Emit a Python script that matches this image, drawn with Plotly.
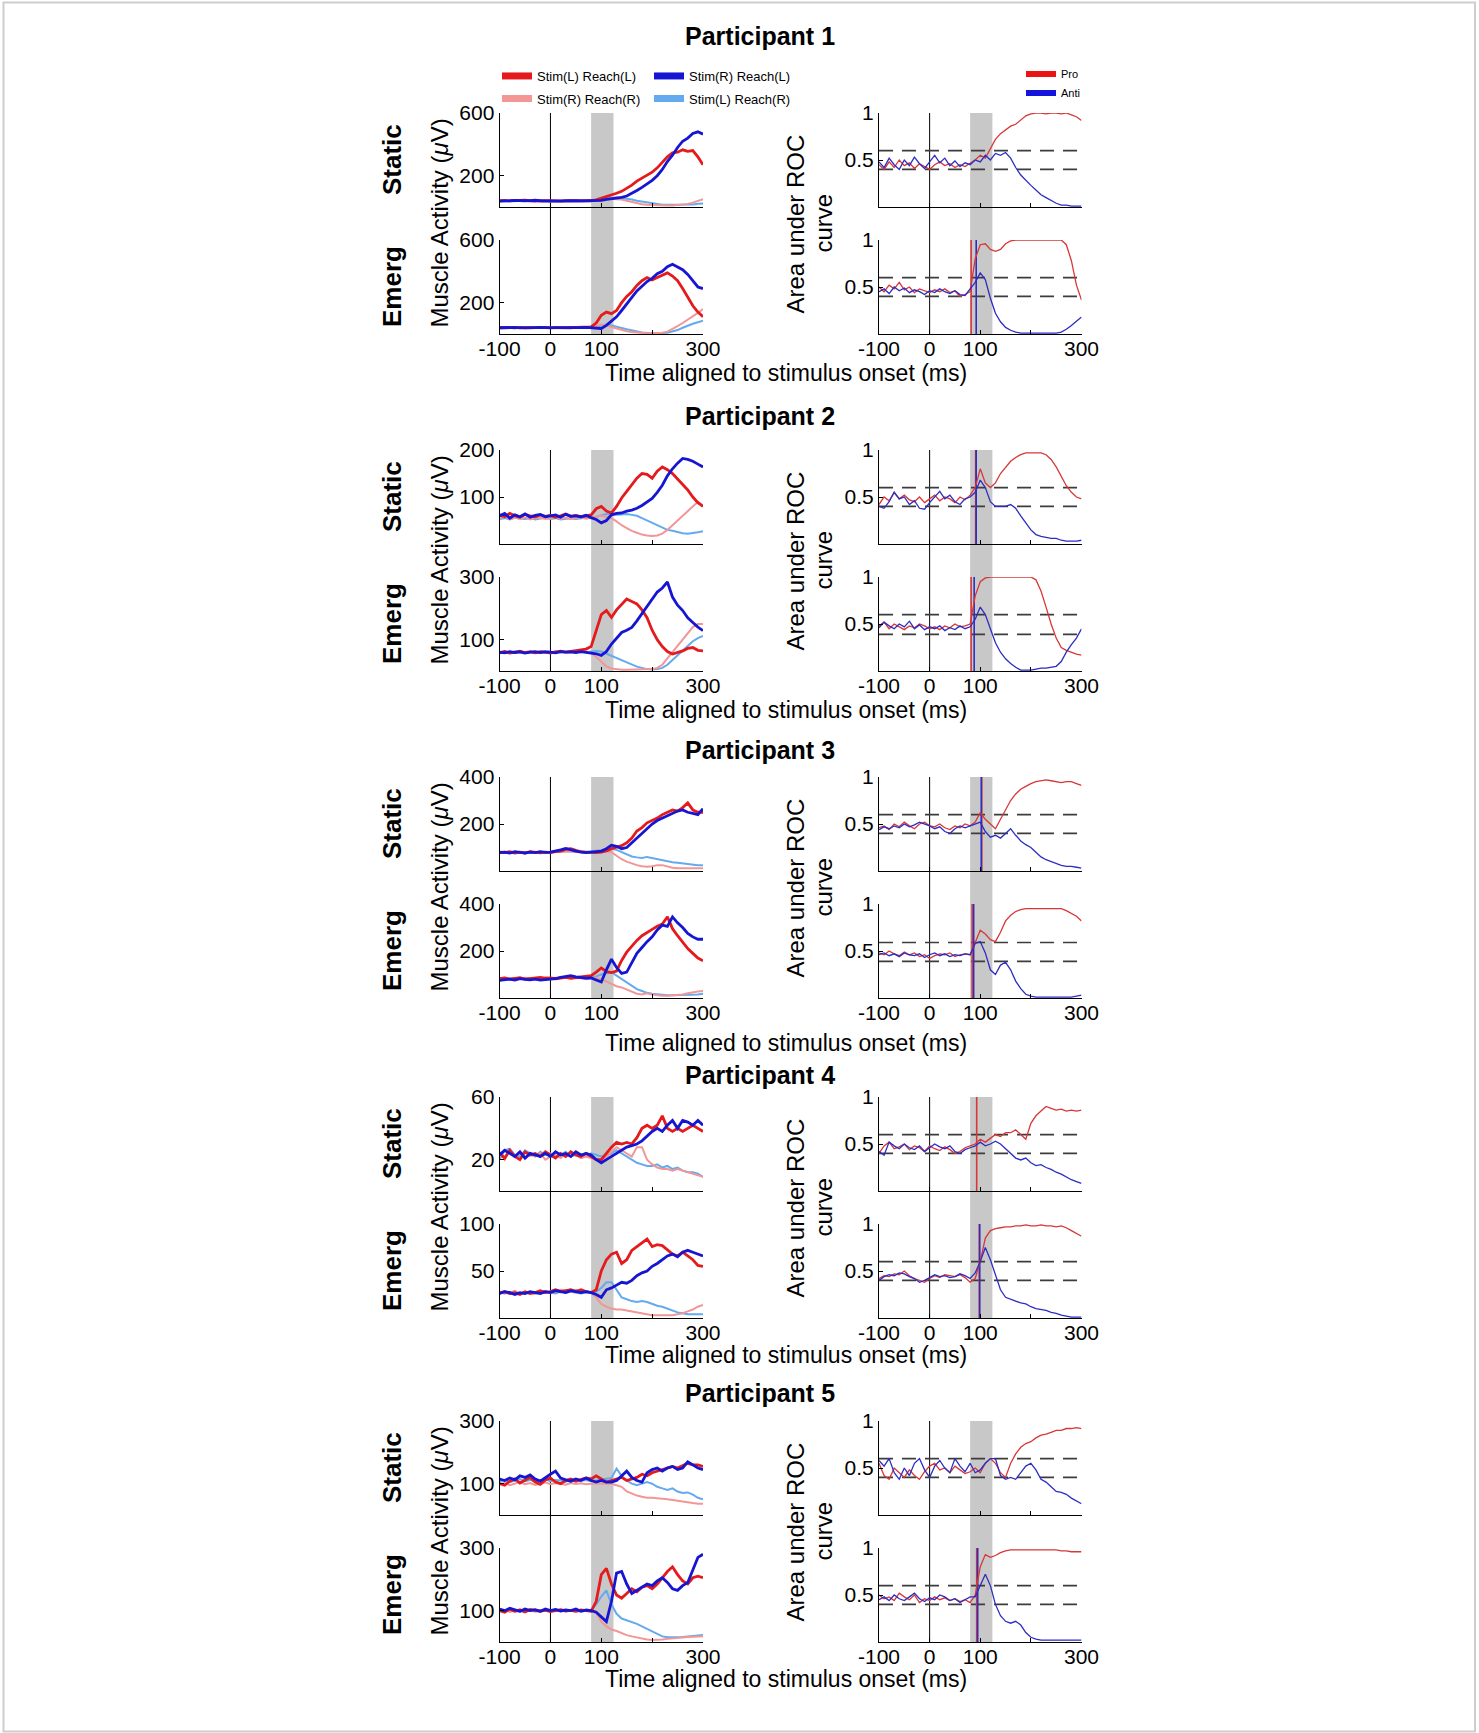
import plotly.graph_objects as go

W, H = 1479, 1733
FONT = "Liberation Sans, Arial, Helvetica, sans-serif"

# ---------------- data ----------------
TIME = list(range(-100, 301, 10))   # ms, aligned to stimulus onset
PARTICIPANTS = ["Participant 1", "Participant 2", "Participant 3", "Participant 4", "Participant 5"]
CONDITIONS = ["Static", "Emerg"]
EMG_NAMES = ["Stim(L) Reach(L)", "Stim(R) Reach(L)", "Stim(R) Reach(R)", "Stim(L) Reach(R)"]
ROC_NAMES = ["Pro", "Anti"]
X_TICKS = [-100, 0, 100, 200, 300]
X_TICK_TEXT = ["-100", "0", "100", "", "300"]
GO_WINDOW = [80, 124]
ROC_TICKS = [0.5, 1]
ROC_TICK_TEXT = ["0.5", "1"]

EMG_YMAX = [[600, 600], [200, 300], [400, 400], [60, 100], [300, 300]]
EMG_YTICKS = [[[200, 600], [200, 600]], [[100, 200], [100, 300]], [[200, 400], [200, 400]],
              [[20, 60], [50, 100]], [[100, 300], [100, 300]]]
ROC_THRESHOLDS = [[[0.6, 0.4], [0.6, 0.4]], [[0.6, 0.4], [0.6, 0.39]], [[0.6, 0.4], [0.59, 0.39]],
                  [[0.6, 0.4], [0.6, 0.4]], [[0.6, 0.4], [0.6, 0.4]]]
# discrimination onsets (Pro, Anti) in ms; None = no significant discrimination
ROC_ONSETS = [[[None, None], [82, 92]], [[91, 92], [82, 88]], [[103, 102], [84, 87]],
              [[93, None], [98, 99]], [[None, None], [93, 95]]]

# Participant 1
p1_static_ll = [40,42,39,41,40,43,40,38,41,40,42,40,41,39,40,42,40,41,40,45,55,65,75,88,100,118,140,165,185,205,222,250,285,320,345,350,365,355,360,320,270]
p1_static_rl = [38,41,40,42,39,40,41,43,40,39,41,40,38,40,42,41,39,40,41,40,42,48,52,58,62,70,85,105,125,145,170,200,240,290,330,380,420,440,470,480,465]
p1_static_rr = [38,37,39,38,36,38,39,37,38,36,38,37,39,38,37,38,36,38,37,40,45,50,52,50,48,40,32,25,18,14,12,10,10,10,10,12,14,20,28,38,50]
p1_static_lr = [38,39,37,38,39,38,37,38,39,38,37,39,38,37,38,39,38,37,38,40,45,52,58,60,58,55,48,40,35,28,22,18,15,14,14,14,14,15,16,20,22]
p1_emerg_ll = [40,42,41,39,42,40,41,43,40,42,41,40,43,41,40,42,44,43,45,70,120,140,130,150,200,240,270,310,340,360,345,360,375,390,370,340,290,230,180,140,110]
p1_emerg_rl = [40,41,40,42,39,41,40,41,42,40,39,41,40,42,41,40,41,42,40,38,35,55,85,110,150,190,235,275,305,335,355,385,400,430,445,425,410,380,340,300,290]
p1_emerg_rr = [40,39,41,40,38,40,41,39,40,41,39,40,41,40,39,41,40,42,44,50,60,55,45,35,25,18,12,8,5,4,4,5,8,15,30,50,70,90,110,135,160]
p1_emerg_lr = [39,40,38,40,41,39,40,39,41,40,38,40,39,41,40,39,40,41,42,45,55,60,55,45,38,30,22,15,10,8,6,6,6,8,15,25,40,55,65,75,85]
p1_static_pro = [0.45,0.40,0.48,0.42,0.50,0.44,0.47,0.41,0.46,0.43,0.40,0.45,0.48,0.44,0.46,0.42,0.45,0.43,0.47,0.50,0.55,0.52,0.62,0.72,0.78,0.82,0.86,0.88,0.93,0.97,0.99,1.0,1.0,0.99,1.0,1.0,0.99,1.0,0.98,0.96,0.92]
p1_static_anti = [0.48,0.42,0.52,0.45,0.40,0.50,0.44,0.53,0.46,0.41,0.48,0.55,0.47,0.52,0.44,0.49,0.43,0.47,0.45,0.50,0.48,0.55,0.50,0.57,0.55,0.58,0.52,0.42,0.34,0.28,0.23,0.18,0.13,0.10,0.07,0.04,0.02,0.02,0.01,0.01,0.01]
p1_emerg_pro = [0.50,0.45,0.52,0.48,0.55,0.47,0.50,0.44,0.48,0.46,0.44,0.47,0.45,0.48,0.44,0.46,0.40,0.42,0.45,0.80,0.95,0.96,0.90,0.88,0.90,0.96,0.99,1.0,1.0,1.0,1.0,1.0,1.0,1.0,1.0,1.0,1.0,0.95,0.78,0.52,0.36]
p1_emerg_anti = [0.45,0.48,0.43,0.50,0.46,0.49,0.44,0.47,0.45,0.42,0.46,0.44,0.48,0.45,0.43,0.46,0.42,0.41,0.48,0.55,0.65,0.58,0.38,0.22,0.13,0.07,0.04,0.02,0.01,0.01,0.01,0.01,0.01,0.01,0.01,0.01,0.02,0.05,0.09,0.14,0.18]

# Participant 2
p2_static_ll = [62,58,65,60,57,63,60,58,62,59,61,57,60,64,59,61,58,60,62,75,80,70,66,80,98,112,125,140,150,148,140,155,164,158,150,138,128,115,100,88,80]
p2_static_rl = [60,65,55,62,58,64,57,61,63,58,60,62,57,63,59,60,58,61,56,52,45,50,62,65,66,70,72,76,82,90,97,110,125,145,160,172,182,180,176,170,164]
p2_static_rr = [55,58,53,56,54,57,52,55,56,53,55,57,54,56,53,55,57,54,56,58,60,58,55,48,40,34,28,24,20,18,17,18,22,30,40,50,60,72,82,90,82]
p2_static_lr = [53,55,52,56,54,53,55,52,54,56,53,55,52,54,55,53,54,56,55,58,62,64,63,62,63,64,62,60,55,50,45,40,35,30,28,25,23,22,23,25,27]
p2_emerg_ll = [58,62,57,60,63,59,61,58,62,60,57,61,63,60,62,65,66,70,78,130,180,193,171,195,214,230,222,214,195,170,130,100,78,62,54,58,64,72,75,66,64]
p2_emerg_rl = [60,58,62,59,61,57,60,62,59,61,60,58,62,60,61,59,62,60,58,55,50,62,86,105,123,130,139,160,182,205,230,252,265,284,236,210,193,170,155,140,129]
p2_emerg_rr = [60,62,59,61,60,58,62,60,61,59,60,62,61,60,59,61,60,62,58,45,30,15,8,5,4,4,4,4,4,4,6,10,20,40,60,80,100,120,140,150,150]
p2_emerg_lr = [58,61,60,62,59,60,61,58,60,62,61,59,60,61,60,62,61,60,62,64,62,55,50,42,35,27,20,14,10,6,5,6,10,20,35,50,65,80,95,105,112]
p2_static_pro = [0.42,0.50,0.46,0.55,0.48,0.52,0.47,0.45,0.50,0.44,0.48,0.52,0.46,0.50,0.48,0.44,0.50,0.47,0.52,0.60,0.80,0.65,0.60,0.65,0.75,0.82,0.88,0.92,0.95,0.97,0.97,0.97,0.97,0.95,0.90,0.82,0.72,0.62,0.55,0.50,0.48]
p2_static_anti = [0.40,0.38,0.45,0.55,0.48,0.50,0.42,0.46,0.38,0.37,0.44,0.50,0.56,0.48,0.52,0.45,0.42,0.48,0.50,0.55,0.68,0.60,0.45,0.40,0.40,0.40,0.42,0.38,0.30,0.22,0.15,0.10,0.08,0.07,0.06,0.06,0.04,0.03,0.03,0.03,0.04]
p2_emerg_pro = [0.48,0.52,0.45,0.50,0.47,0.44,0.48,0.46,0.50,0.48,0.45,0.47,0.44,0.48,0.46,0.50,0.47,0.48,0.50,0.80,0.95,0.99,1.0,1.0,1.0,1.0,1.0,1.0,1.0,1.0,1.0,0.97,0.85,0.68,0.50,0.35,0.25,0.22,0.20,0.18,0.17]
p2_emerg_anti = [0.46,0.52,0.48,0.45,0.50,0.47,0.53,0.45,0.49,0.44,0.47,0.45,0.48,0.43,0.46,0.44,0.48,0.45,0.47,0.55,0.68,0.60,0.45,0.30,0.20,0.13,0.08,0.04,0.01,0.01,0.01,0.02,0.03,0.03,0.04,0.05,0.10,0.20,0.28,0.35,0.45]

# Participant 3
p3_static_ll = [80,78,82,76,80,75,82,79,77,80,78,82,85,92,95,88,82,80,78,78,80,85,95,100,108,120,140,170,185,205,215,225,240,250,260,255,270,290,260,250,250]
p3_static_rl = [78,80,76,82,79,77,80,78,82,79,80,84,90,96,92,85,80,78,80,82,85,95,110,105,95,100,120,140,160,180,200,215,225,235,245,255,260,250,245,240,265]
p3_static_rr = [80,82,78,80,79,81,78,80,82,79,80,81,83,86,84,82,80,79,80,80,80,85,80,65,50,40,32,25,20,18,20,25,25,18,14,12,12,10,10,10,12]
p3_static_lr = [82,79,81,80,78,80,82,79,80,81,79,80,82,85,84,81,80,82,84,85,88,92,95,90,80,70,62,58,55,60,55,50,45,40,37,35,32,30,28,25,25]
p3_emerg_ll = [82,85,80,84,86,80,83,85,88,84,86,82,85,88,84,86,90,92,95,110,128,112,108,115,160,195,220,245,265,280,292,305,315,345,295,265,235,210,190,170,158]
p3_emerg_rl = [75,78,80,76,82,79,77,80,76,78,80,82,88,92,95,90,86,84,85,75,68,120,165,130,105,110,150,190,215,240,260,290,310,305,345,320,300,275,260,250,250]
p3_emerg_rr = [84,86,82,85,83,86,84,82,85,87,84,86,88,85,84,86,85,84,86,85,80,70,60,50,45,35,25,18,15,20,15,12,10,10,12,12,15,20,25,28,30]
p3_emerg_lr = [82,84,80,83,85,82,84,81,83,85,82,84,86,88,85,84,83,85,88,92,100,105,110,95,80,65,50,38,30,22,18,15,12,12,12,12,12,12,13,15,18]
p3_static_pro = [0.46,0.48,0.44,0.50,0.47,0.52,0.48,0.45,0.50,0.52,0.48,0.47,0.50,0.46,0.44,0.48,0.46,0.50,0.48,0.52,0.62,0.55,0.50,0.45,0.55,0.65,0.75,0.82,0.87,0.90,0.93,0.95,0.96,0.97,0.96,0.95,0.94,0.95,0.95,0.93,0.91]
p3_static_anti = [0.44,0.47,0.45,0.48,0.46,0.50,0.47,0.49,0.52,0.50,0.48,0.45,0.47,0.42,0.40,0.45,0.48,0.46,0.48,0.50,0.52,0.42,0.36,0.38,0.35,0.40,0.45,0.38,0.32,0.28,0.25,0.20,0.15,0.12,0.10,0.08,0.06,0.05,0.05,0.04,0.03]
p3_emerg_pro = [0.48,0.46,0.50,0.47,0.45,0.49,0.46,0.48,0.44,0.46,0.42,0.45,0.47,0.46,0.48,0.44,0.46,0.47,0.46,0.60,0.72,0.68,0.62,0.60,0.70,0.82,0.88,0.92,0.94,0.95,0.95,0.95,0.95,0.95,0.95,0.95,0.95,0.93,0.90,0.87,0.82]
p3_emerg_anti = [0.46,0.48,0.45,0.47,0.44,0.48,0.46,0.45,0.47,0.43,0.46,0.48,0.45,0.47,0.44,0.46,0.45,0.47,0.46,0.58,0.60,0.48,0.30,0.25,0.35,0.38,0.30,0.18,0.10,0.04,0.02,0.01,0.01,0.01,0.01,0.01,0.01,0.01,0.01,0.02,0.03]

# Participant 4
p4_static_ll = [24,21,26,22,20,25,23,24,22,25,23,21,24,22,25,23,22,24,22,20,20,24,28,31,30,31,30,34,40,42,40,42,48,40,38,40,38,40,42,40,38]
p4_static_rl = [23,26,24,22,25,21,24,23,22,24,22,25,23,24,22,25,23,24,23,20,18,20,22,24,26,28,29,30,32,35,38,40,38,42,45,40,45,44,42,45,42]
p4_static_rr = [25,20,26,22,24,21,23,22,24,20,22,23,21,24,22,23,21,22,21,20,20,22,25,28,26,24,22,28,28,20,17,15,14,14,13,14,13,12,11,10,9]
p4_static_lr = [20,26,27,23,22,26,24,22,25,23,24,22,23,25,22,24,23,22,24,23,22,23,24,26,24,22,20,18,17,16,16,17,15,16,14,15,13,12,12,11,9]
p4_emerg_ll = [27,28,26,27,25,28,26,27,29,27,28,30,28,29,30,28,30,28,27,30,50,62,68,70,58,62,72,76,80,84,76,78,77,72,68,66,70,66,62,56,55]
p4_emerg_rl = [26,28,27,25,27,26,28,27,26,28,27,29,28,27,29,28,27,28,27,25,22,30,32,35,38,37,40,45,48,50,55,58,62,66,68,65,70,72,70,68,66]
p4_emerg_rr = [28,26,27,29,26,28,27,26,28,29,27,28,30,29,28,30,29,28,27,22,15,12,10,9,9,8,7,6,5,4,3,3,3,3,3,4,5,7,9,12,14]
p4_emerg_lr = [27,26,28,27,26,27,28,26,27,28,27,26,28,27,28,27,26,27,28,28,32,38,38,30,22,20,18,17,18,17,15,13,12,10,8,6,5,4,4,4,4]
p4_static_pro = [0.40,0.48,0.52,0.45,0.47,0.50,0.44,0.48,0.46,0.42,0.48,0.45,0.43,0.47,0.44,0.40,0.42,0.46,0.48,0.50,0.55,0.52,0.56,0.60,0.58,0.62,0.62,0.65,0.60,0.55,0.72,0.80,0.85,0.90,0.88,0.86,0.87,0.85,0.86,0.85,0.86]
p4_static_anti = [0.42,0.38,0.52,0.48,0.45,0.50,0.46,0.44,0.48,0.42,0.46,0.50,0.47,0.45,0.48,0.42,0.40,0.44,0.46,0.48,0.52,0.48,0.50,0.53,0.50,0.45,0.40,0.35,0.33,0.35,0.30,0.27,0.28,0.25,0.23,0.20,0.18,0.15,0.12,0.10,0.08]
p4_emerg_pro = [0.42,0.45,0.44,0.47,0.46,0.50,0.45,0.42,0.40,0.38,0.42,0.45,0.43,0.46,0.45,0.44,0.46,0.43,0.38,0.42,0.60,0.85,0.93,0.95,0.96,0.97,0.97,0.98,0.98,0.99,0.98,0.98,0.99,0.98,0.98,0.97,0.98,0.96,0.93,0.90,0.87]
p4_emerg_anti = [0.40,0.44,0.46,0.45,0.48,0.47,0.44,0.42,0.38,0.40,0.43,0.46,0.44,0.45,0.43,0.44,0.47,0.45,0.42,0.48,0.60,0.75,0.62,0.45,0.30,0.22,0.20,0.18,0.16,0.15,0.12,0.10,0.09,0.08,0.06,0.05,0.03,0.02,0.01,0.01,0.01]

# Participant 5
p5_static_ll = [100,95,108,115,102,110,120,105,98,112,118,105,100,110,115,108,112,118,115,125,115,105,110,115,120,110,115,120,130,125,135,140,145,150,155,150,158,165,160,160,155]
p5_static_rl = [115,110,118,112,125,120,128,115,108,120,130,140,118,112,108,115,110,118,110,105,110,105,105,110,125,140,120,110,105,135,145,150,140,150,155,145,150,170,160,150,145]
p5_static_rr = [98,102,95,100,105,98,102,96,100,104,98,102,100,97,102,99,101,98,100,100,100,98,100,95,90,75,68,62,58,55,55,54,52,50,48,45,42,40,38,36,36]
p5_static_lr = [108,112,105,110,115,108,112,106,110,114,108,112,110,106,112,108,110,112,108,110,112,115,118,148,125,110,100,95,100,105,100,90,85,80,85,75,70,72,65,55,50]
p5_emerg_ll = [100,95,105,98,102,96,104,100,98,102,97,100,103,99,101,98,102,100,98,130,215,235,185,150,140,155,170,160,175,180,170,185,205,225,240,215,195,185,205,210,205]
p5_emerg_rl = [105,100,108,102,98,105,100,103,98,105,100,104,99,102,100,105,98,102,100,95,80,65,130,220,225,185,155,165,175,185,180,195,205,190,170,165,180,190,230,270,280]
p5_emerg_rr = [98,102,96,100,104,98,101,97,100,103,99,101,98,102,100,99,101,100,98,95,65,50,40,35,28,22,18,14,10,8,6,6,8,10,12,14,15,16,17,18,18]
p5_emerg_lr = [102,98,104,100,97,103,100,98,102,99,101,104,100,98,102,100,101,99,102,120,145,165,120,90,75,70,65,58,50,42,35,25,18,15,14,15,16,18,20,22,22]
p5_static_pro = [0.55,0.42,0.38,0.50,0.45,0.40,0.48,0.42,0.38,0.46,0.52,0.55,0.48,0.50,0.45,0.52,0.48,0.44,0.46,0.50,0.45,0.55,0.60,0.55,0.45,0.40,0.55,0.65,0.72,0.76,0.78,0.82,0.85,0.86,0.88,0.90,0.90,0.92,0.92,0.93,0.92]
p5_static_anti = [0.58,0.52,0.60,0.45,0.38,0.50,0.42,0.55,0.60,0.48,0.40,0.52,0.58,0.50,0.45,0.60,0.52,0.46,0.55,0.45,0.48,0.55,0.60,0.60,0.42,0.38,0.40,0.38,0.45,0.52,0.55,0.48,0.38,0.35,0.30,0.25,0.24,0.22,0.18,0.15,0.12]
p5_emerg_pro = [0.50,0.46,0.48,0.44,0.52,0.48,0.45,0.50,0.42,0.46,0.44,0.48,0.45,0.47,0.44,0.46,0.43,0.45,0.42,0.50,0.80,0.93,0.90,0.92,0.95,0.97,0.98,0.98,0.98,0.98,0.98,0.98,0.98,0.98,0.98,0.98,0.97,0.97,0.96,0.96,0.96]
p5_emerg_anti = [0.45,0.48,0.44,0.50,0.46,0.44,0.48,0.52,0.46,0.43,0.47,0.45,0.50,0.48,0.44,0.46,0.42,0.45,0.48,0.48,0.60,0.72,0.60,0.40,0.28,0.22,0.20,0.22,0.18,0.10,0.05,0.03,0.02,0.02,0.02,0.02,0.02,0.02,0.02,0.02,0.02]

EMG = [
    [[p1_static_ll, p1_static_rl, p1_static_rr, p1_static_lr], [p1_emerg_ll, p1_emerg_rl, p1_emerg_rr, p1_emerg_lr]],
    [[p2_static_ll, p2_static_rl, p2_static_rr, p2_static_lr], [p2_emerg_ll, p2_emerg_rl, p2_emerg_rr, p2_emerg_lr]],
    [[p3_static_ll, p3_static_rl, p3_static_rr, p3_static_lr], [p3_emerg_ll, p3_emerg_rl, p3_emerg_rr, p3_emerg_lr]],
    [[p4_static_ll, p4_static_rl, p4_static_rr, p4_static_lr], [p4_emerg_ll, p4_emerg_rl, p4_emerg_rr, p4_emerg_lr]],
    [[p5_static_ll, p5_static_rl, p5_static_rr, p5_static_lr], [p5_emerg_ll, p5_emerg_rl, p5_emerg_rr, p5_emerg_lr]],
]
ROC = [
    [[p1_static_pro, p1_static_anti], [p1_emerg_pro, p1_emerg_anti]],
    [[p2_static_pro, p2_static_anti], [p2_emerg_pro, p2_emerg_anti]],
    [[p3_static_pro, p3_static_anti], [p3_emerg_pro, p3_emerg_anti]],
    [[p4_static_pro, p4_static_anti], [p4_emerg_pro, p4_emerg_anti]],
    [[p5_static_pro, p5_static_anti], [p5_emerg_pro, p5_emerg_anti]],
]
for p in range(5):
    for c in range(2):
        for s in EMG[p][c] + ROC[p][c]:
            if len(s) != len(TIME):
                raise ValueError(f"length mismatch P{p+1} cond {c}: {len(s)}")

# ---------------- styling / layout ----------------
EMG_COLORS = ["rgb(228,26,28)", "rgb(22,22,210)", "rgb(242,150,150)", "rgb(100,170,238)"]
EMG_WIDTHS = [2.8, 2.8, 2.0, 2.0]
ROC_COLORS = ["rgb(215,55,55)", "rgb(45,45,195)"]
BAND_COLOR = "rgb(200,200,200)"

LEFT_X = (499.6, 703.0)
RIGHT_X = (879.0, 1081.5)
STATIC_TOPS = [113, 450, 777, 1097, 1421]
PANEL_H = 94
EMERG_OFF = 127
TITLE_Y = [36.5, 415.5, 749.5, 1074.5, 1393]
XLABEL_Y = [372, 709, 1042, 1354, 1678]


def fx(px):
    return px / W


def fy(py):
    return 1 - py / H


fig = go.Figure()
layout = dict(
    template="none",
    width=W, height=H, autosize=False,
    margin=dict(l=0, r=0, t=0, b=0, pad=0, autoexpand=False),
    paper_bgcolor="white", plot_bgcolor="rgba(0,0,0,0)",
    font=dict(family=FONT, color="black"),
    showlegend=True,
)
shapes = []
annotations = []

axis_common = dict(showgrid=False, zeroline=False, showline=True, linecolor="black", linewidth=1,
                   ticks="inside", ticklen=4, tickwidth=1, tickcolor="black", automargin=False,
                   tickfont=dict(family=FONT, size=21, color="black"), fixedrange=True)

for p in range(5):
    T = STATIC_TOPS[p]
    for c in range(2):
        top = T + c * EMERG_OFF
        bottom = top + PANEL_H
        for side in range(2):
            k = 1 + p * 4 + c * 2 + side
            xname = "xaxis" if k == 1 else f"xaxis{k}"
            yname = "yaxis" if k == 1 else f"yaxis{k}"
            xr = "x" if k == 1 else f"x{k}"
            yr = "y" if k == 1 else f"y{k}"
            dom = LEFT_X if side == 0 else RIGHT_X
            layout[xname] = dict(axis_common, domain=[fx(dom[0]), fx(dom[1])], anchor=yr,
                                 range=[-100, 300], tickvals=X_TICKS, ticktext=X_TICK_TEXT,
                                 showticklabels=(c == 1), ticklabelstandoff=-4)
            if side == 0:
                ymax = EMG_YMAX[p][c]
                yt = EMG_YTICKS[p][c]
                layout[yname] = dict(axis_common, domain=[fy(bottom), fy(top)], anchor=xr,
                                     range=[0, ymax], tickvals=yt, ticktext=[str(v) for v in yt])
                order = [3, 2, 0, 1]
                for i in order:
                    fig.add_trace(go.Scatter(
                        x=TIME, y=EMG[p][c][i], mode="lines", xaxis=xr, yaxis=yr,
                        line=dict(color=EMG_COLORS[i], width=EMG_WIDTHS[i]),
                        name=EMG_NAMES[i], showlegend=False, hoverinfo="skip"))
            else:
                layout[yname] = dict(axis_common, domain=[fy(bottom), fy(top)], anchor=xr,
                                     range=[0, 1], tickvals=ROC_TICKS, ticktext=ROC_TICK_TEXT)
                for th in ROC_THRESHOLDS[p][c]:
                    fig.add_trace(go.Scatter(
                        x=[-100, 300], y=[th, th], mode="lines", xaxis=xr, yaxis=yr,
                        line=dict(color="rgb(60,60,60)", width=1.6, dash="14px,9px"),
                        showlegend=False, hoverinfo="skip"))
                for j in range(2):
                    onset = ROC_ONSETS[p][c][j]
                    if onset is not None:
                        fig.add_trace(go.Scatter(
                            x=[onset, onset], y=[0, 1], mode="lines", xaxis=xr, yaxis=yr,
                            line=dict(color=ROC_COLORS[j], width=1.6),
                            showlegend=False, hoverinfo="skip"))
                for j in range(2):
                    fig.add_trace(go.Scatter(
                        x=TIME, y=ROC[p][c][j], mode="lines", xaxis=xr, yaxis=yr,
                        line=dict(color=ROC_COLORS[j], width=1.3),
                        name=ROC_NAMES[j], showlegend=False, hoverinfo="skip"))

    # go-window band and stimulus-onset line spanning both conditions
    span_top = fy(T)
    span_bot = fy(T + EMERG_OFF + PANEL_H)
    for side in range(2):
        k = 1 + p * 4 + side
        xr = "x" if k == 1 else f"x{k}"
        shapes.append(dict(type="rect", xref=xr, yref="paper", x0=GO_WINDOW[0], x1=GO_WINDOW[1],
                           y0=span_bot, y1=span_top, fillcolor=BAND_COLOR, line=dict(width=0),
                           layer="below"))
        shapes.append(dict(type="line", xref=xr, yref="paper", x0=0, x1=0,
                           y0=span_bot, y1=span_top, line=dict(color="black", width=1),
                           layer="below"))

    # texts
    annotations.append(dict(text=f"<b>{PARTICIPANTS[p]}</b>", x=fx(760), y=fy(TITLE_Y[p]),
                            xref="paper", yref="paper", showarrow=False, xanchor="center",
                            yanchor="middle", font=dict(size=25)))
    annotations.append(dict(text="<b>Static</b>", x=fx(392), y=fy(T + PANEL_H / 2),
                            xref="paper", yref="paper", showarrow=False, textangle=-90,
                            xanchor="center", yanchor="middle", font=dict(size=26)))
    annotations.append(dict(text="<b>Emerg</b>", x=fx(392), y=fy(T + EMERG_OFF + PANEL_H / 2),
                            xref="paper", yref="paper", showarrow=False, textangle=-90,
                            xanchor="center", yanchor="middle", font=dict(size=26)))
    mid = T + (EMERG_OFF + PANEL_H) / 2
    annotations.append(dict(text="Muscle Activity (<i>μ</i>V)", x=fx(439), y=fy(mid),
                            xref="paper", yref="paper", showarrow=False, textangle=-90,
                            xanchor="center", yanchor="middle", font=dict(size=24)))
    annotations.append(dict(text="Area under ROC", x=fx(795), y=fy(mid),
                            xref="paper", yref="paper", showarrow=False, textangle=-90,
                            xanchor="center", yanchor="middle", font=dict(size=24)))
    annotations.append(dict(text="curve", x=fx(823), y=fy(mid),
                            xref="paper", yref="paper", showarrow=False, textangle=-90,
                            xanchor="center", yanchor="middle", font=dict(size=24)))
    annotations.append(dict(text="Time aligned to stimulus onset (ms)", x=fx(786),
                            y=fy(XLABEL_Y[p] + 1), xref="paper", yref="paper", showarrow=False,
                            xanchor="center", yanchor="middle", font=dict(size=23)))

# legends (entries only, no data)
for i, leg in [(0, "legend"), (1, "legend"), (2, "legend2"), (3, "legend2")]:
    fig.add_trace(go.Scatter(x=[None], y=[None], mode="lines", name=EMG_NAMES[i],
                             line=dict(color=EMG_COLORS[i], width=7), legend=leg,
                             showlegend=True, hoverinfo="skip"))
for j in range(2):
    fig.add_trace(go.Scatter(x=[None], y=[None], mode="lines", name=ROC_NAMES[j],
                             line=dict(color=["rgb(235,20,20)", "rgb(20,20,220)"][j], width=6),
                             legend="legend3", showlegend=True, hoverinfo="skip"))

leg_common = dict(bgcolor="rgba(0,0,0,0)", borderwidth=0, itemwidth=30, traceorder="normal",
                  itemclick=False, itemdoubleclick=False)
layout["legend"] = dict(leg_common, orientation="h", x=fx(497), y=fy(76), xanchor="left",
                        yanchor="middle", font=dict(size=13), entrywidth=107,
                        entrywidthmode="pixels")
layout["legend2"] = dict(leg_common, orientation="h", x=fx(497), y=fy(98.5), xanchor="left",
                         yanchor="middle", font=dict(size=13), entrywidth=107,
                         entrywidthmode="pixels")
layout["legend3"] = dict(leg_common, orientation="v", x=fx(1021), y=fy(83.5), xanchor="left",
                         yanchor="middle", font=dict(size=11), tracegroupgap=0)

# outer frame of the picture
shapes.append(dict(type="rect", xref="paper", yref="paper", x0=fx(3.5), x1=fx(1475),
                   y0=fy(1731.5), y1=fy(2.5), line=dict(color="rgb(205,205,205)", width=2),
                   fillcolor="rgba(0,0,0,0)", layer="above"))

layout["shapes"] = shapes
layout["annotations"] = annotations
fig.update_layout(**layout)
# the page body has a default 8px margin; remove it so the figure starts at the page corner
fig.write_html("out.html", config={"displayModeBar": False, "staticPlot": True},
               post_script="document.body.style.margin='0px';")
